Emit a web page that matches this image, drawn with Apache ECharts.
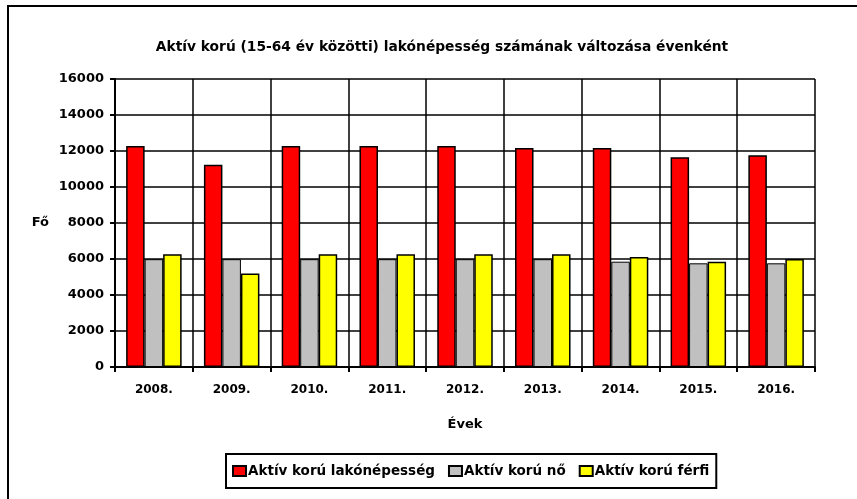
<!DOCTYPE html>
<html>
<head>
<meta charset="utf-8">
<script src="https://cdn.jsdelivr.net/npm/echarts@6/dist/echarts.min.js"></script>
<style>html,body{margin:0;padding:0;background:#fff}#c{width:857px;height:499px}</style>
</head>
<body>
<div id="c"></div>
<script>
var categories = ['2008.', '2009.', '2010.', '2011.', '2012.', '2013.', '2014.', '2015.', '2016.'];
var seriesNames = ['Aktív korú lakónépesség', 'Aktív korú nő', 'Aktív korú férfi'];
var totalValues = [12280, 11240, 12280, 12280, 12280, 12170, 12170, 11650, 11760];
var femaleValues = [5990, 5990, 5990, 5990, 5990, 5990, 5850, 5760, 5760];
var maleValues = [6260, 5200, 6260, 6260, 6260, 6260, 6110, 5850, 6000];
var titleText = 'Aktív korú (15-64 év közötti) lakónépesség számának változása évenként';

var font = 'DejaVu Sans, Liberation Sans, Arial, sans-serif';
var chart = echarts.init(document.getElementById('c'), null, {renderer: 'canvas'});
function bar(name, data, color, bw) {
  return {
    name: name, type: 'bar', data: data, barWidth: 18.5, barGap: '0%',
    itemStyle: {color: color, borderColor: '#000', borderWidth: bw},
    emphasis: {disabled: true}
  };
}
chart.setOption({
  animation: false,
  backgroundColor: '#fff',
  graphic: [{type: 'rect', shape: {x: 8, y: 6, width: 900, height: 600}, style: {fill: 'none', stroke: '#000', lineWidth: 2}, z: 100}],
  title: {
    text: titleText, left: 437, top: 35, textAlign: 'center',
    textStyle: {fontFamily: font, fontWeight: 'bold', fontSize: 13.8, color: '#000'}
  },
  legend: {
    data: seriesNames, left: 226, top: 454, orient: 'horizontal',
    borderColor: '#000', borderWidth: 2, padding: [10, 7, 10, 6],
    icon: 'rect', itemWidth: 13, itemHeight: 10, itemGap: 13,
    textStyle: {fontFamily: font, fontWeight: 'bold', fontSize: 13.5, color: '#000', padding: [0, 0, 0, -3]}
  },
  grid: {left: 115, right: 42, top: 79, bottom: 132},
  xAxis: {
    type: 'category', data: categories,
    name: 'Évek', nameLocation: 'middle', nameGap: 51,
    nameTextStyle: {fontFamily: font, fontWeight: 'bold', fontSize: 13, color: '#000'},
    axisLine: {lineStyle: {color: '#000', width: 2}},
    axisTick: {show: true, length: 5, lineStyle: {color: '#000', width: 2}},
    axisLabel: {fontFamily: font, fontWeight: 'bold', fontSize: 12, color: '#000', margin: 17},
    splitLine: {show: true, lineStyle: {color: '#000', width: 1.5}}
  },
  yAxis: {
    type: 'value', min: 0, max: 16000, interval: 2000,
    name: 'Fő', nameLocation: 'middle', nameGap: 66, nameRotate: 0,
    nameTextStyle: {fontFamily: font, fontWeight: 'bold', fontSize: 13, color: '#000', verticalAlign: 'middle'},
    axisLine: {show: true, lineStyle: {color: '#000', width: 2}},
    axisTick: {show: true, length: 5, lineStyle: {color: '#000', width: 2}},
    axisLabel: {fontFamily: font, fontWeight: 'bold', fontSize: 13, color: '#000', margin: 11,
      formatter: function (v) { return String(v); }},
    splitLine: {show: true, lineStyle: {color: '#000', width: 1.5}}
  },
  series: [
    bar(seriesNames[0], totalValues, '#ff0000', 1.5),
    bar(seriesNames[1], femaleValues, '#c0c0c0', 1),
    bar(seriesNames[2], maleValues, '#ffff00', 1.5)
  ]
});
</script>
</body>
</html>
